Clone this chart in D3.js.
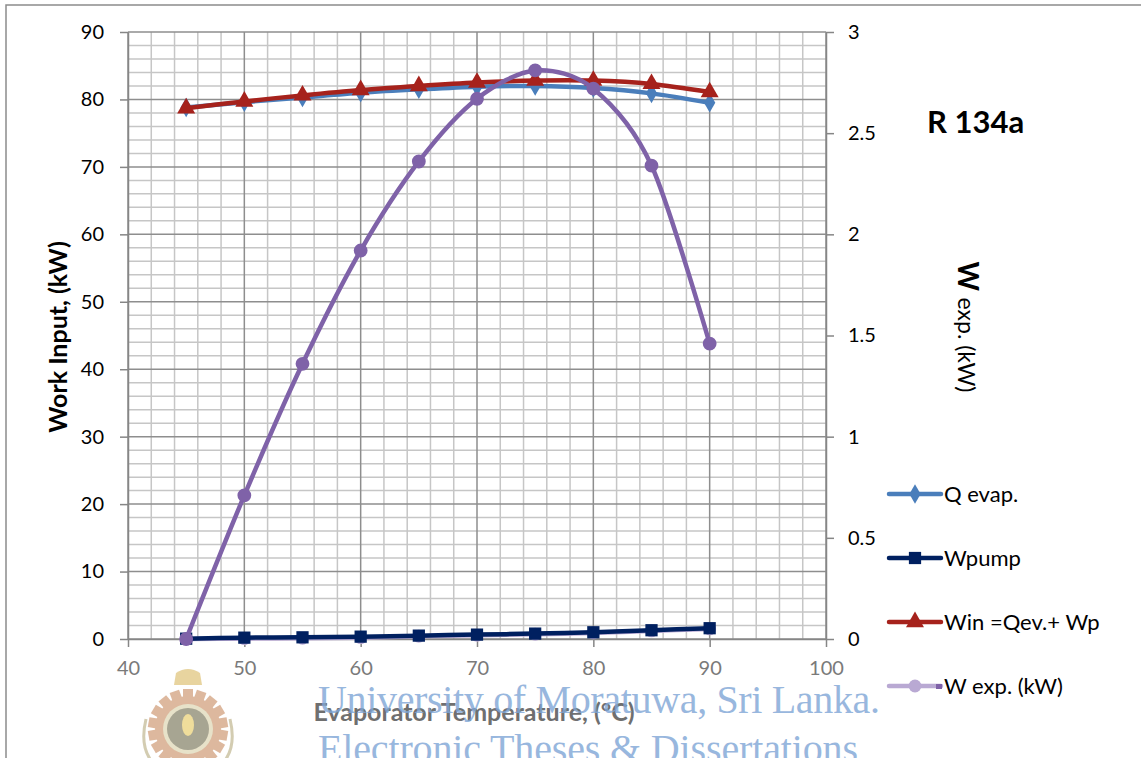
<!DOCTYPE html>
<meta charset="utf-8">
<style>
body { margin: 0; background: #fff; }
svg { display: block; font-family: Lato, "Open Sans", sans-serif; }
.grid-minor { stroke: #c6c6c6; stroke-width: 1.5px; }
.grid-major { stroke: #8e8e8e; stroke-width: 1.5px; }
.axis path, .axis line { stroke: #868686; stroke-width: 1.5px; }
.axis text { font-family: Lato, sans-serif; }
</style>
<body>
<script src="https://d3js.org/d3.v7.min.js"></script>
<script>
// R 134a - work input vs evaporator temperature
var temps   = [45, 50, 55, 60, 65, 70, 75, 80, 85, 90];
var qEvap   = [78.8, 79.6, 80.3, 81.0, 81.5, 81.9, 82.0, 81.7, 80.9, 79.5];
var wPump   = [0.05, 0.2, 0.25, 0.35, 0.5, 0.65, 0.8, 1.0, 1.3, 1.6];
var wIn     = [78.7, 79.7, 80.6, 81.4, 82.0, 82.5, 82.8, 82.8, 82.3, 81.1];
var wExpPri = [0, 0.05, 0.1, 0.2, 0.4, 0.55, 0.7, 0.9, 1.2, 1.5];   // light series on left axis
var wExp    = [0, 0.71, 1.36, 1.92, 2.36, 2.67, 2.81, 2.72, 2.34, 1.46]; // right axis

var leftTicks  = [0, 10, 20, 30, 40, 50, 60, 70, 80, 90];
var rightTicks = [0, 0.5, 1, 1.5, 2, 2.5, 3];
var xTicks     = [40, 50, 60, 70, 80, 90, 100];

var W = 1141, H = 758;
var svg = d3.select("body").append("svg").attr("width", W).attr("height", H);

var x  = d3.scaleLinear().domain([40, 100]).range([128, 826]);
var yL = d3.scaleLinear().domain([0, 90]).range([639, 32]);
var yR = d3.scaleLinear().domain([0, 3]).range([639, 32]);

// outer chart border
svg.append("path").attr("d", "M6,758V5H1141").attr("fill", "none")
   .attr("stroke", "#8c8c8c").attr("stroke-width", 1.5);

// grid
var g = svg.append("g");
d3.range(40, 101, 2).forEach(function(v) {
  g.append("line").attr("class", v % 10 === 0 ? "grid-major" : "grid-minor")
    .attr("x1", x(v)).attr("x2", x(v)).attr("y1", yL(90)).attr("y2", yL(0));
});
d3.range(0, 91, 2).forEach(function(v) {
  g.append("line").attr("class", v % 10 === 0 ? "grid-major" : "grid-minor")
    .attr("x1", x(40)).attr("x2", x(100)).attr("y1", yL(v)).attr("y2", yL(v));
});
g.selectAll(".grid-major").raise();

// axes
var axL = svg.append("g").attr("class", "axis").attr("transform", "translate(128,0)")
  .call(d3.axisLeft(yL).tickValues(leftTicks).tickSize(8).tickPadding(16).tickSizeOuter(0));
axL.selectAll("text").attr("font-size", 20).attr("fill", "#000");

var axR = svg.append("g").attr("class", "axis").attr("transform", "translate(826,0)")
  .call(d3.axisRight(yR).tickValues(rightTicks).tickSize(8).tickPadding(14).tickSizeOuter(0)
        .tickFormat(function(d) { return d; }));
axR.selectAll("text").attr("font-size", 20).attr("fill", "#000");

var axB = svg.append("g").attr("class", "axis").attr("transform", "translate(0,639)")
  .call(d3.axisBottom(x).tickValues(xTicks).tickSize(8).tickPadding(14).tickSizeOuter(0));
axB.selectAll("text").attr("font-size", 20).attr("fill", "#7a7a7a");

// titles
svg.append("text").attr("transform", "translate(67,337) rotate(-90)")
  .attr("text-anchor", "middle").attr("font-size", 25).attr("font-weight", "bold")
  .text("Work Input, (kW)");

var rt = svg.append("text").attr("transform", "translate(958,327) rotate(90)")
  .attr("text-anchor", "middle");
rt.append("tspan").attr("font-size", 28).attr("font-weight", "bold").text("W ");
rt.append("tspan").attr("font-size", 23).text("exp. (kW)");

svg.append("text").attr("x", 927).attr("y", 133).attr("font-size", 31)
  .attr("font-weight", "bold").text("R 134a");

svg.append("text").attr("x", 474).attr("y", 721).attr("text-anchor", "middle")
  .attr("font-size", 25).attr("font-weight", "bold").attr("fill", "#6f6f6f")
  .text("Evaporator Temperature, (\u00B0C)");

// series
var series = [
  {name: "W exp. (kW)",   vals: wExpPri, color: "#b9a9d3", sym: d3.symbolCircle,   size: 130, y: yL},
  {name: "Q evap.",       vals: qEvap,   color: "#4a7ebb", sym: d3.symbolDiamond,  size: 110, y: yL},
  {name: "Wpump",         vals: wPump,   color: "#002060", sym: d3.symbolSquare,   size: 150, y: yL},
  {name: "Win =Qev.+ Wp", vals: wIn,     color: "#a6221c", sym: d3.symbolTriangle, size: 140, y: yL},
  {name: "",              vals: wExp,    color: "#7f62a8", sym: d3.symbolCircle,   size: 150, y: yR}
];

series.forEach(function(s) {
  var pts = temps.map(function(t, i) { return [t, s.vals[i]]; });
  var line = d3.line().curve(d3.curveCardinal.tension(0.1))
    .x(function(d) { return x(d[0]); })
    .y(function(d) { return s.y(d[1]); });
  svg.append("path").datum(pts).attr("d", line).attr("fill", "none")
    .attr("stroke", s.color).attr("stroke-width", 4.5);
  svg.append("g").selectAll("path").data(pts).enter().append("path")
    .attr("transform", function(d) { return "translate(" + x(d[0]) + "," + s.y(d[1]) + ")"; })
    .attr("d", d3.symbol().type(s.sym).size(s.size))
    .attr("fill", s.color);
});

// legend
var legendRows = [series[1], series[2], series[3], series[0]];
var lg = svg.append("g");
legendRows.forEach(function(s, i) {
  var ly = 494 + i * 64;
  lg.append("line").attr("x1", 889).attr("x2", 941).attr("y1", ly).attr("y2", ly)
    .attr("stroke", s.color).attr("stroke-width", 4.5).attr("stroke-linecap", "round");
  lg.append("path").attr("transform", "translate(915," + ly + ")")
    .attr("d", d3.symbol().type(s.sym).size(s.size)).attr("fill", s.color);
  lg.append("text").attr("x", 944).attr("y", ly + 8).attr("font-size", 22).text(s.name);
});
lg.append("rect").attr("x", 936).attr("y", 684).attr("width", 6).attr("height", 5).attr("fill", "#7f62a8");

// watermark
var wm = svg.append("g").attr("opacity", 0.6);
var logo = wm.append("g").attr("transform", "translate(188,729)");
d3.range(0, 360, 20).forEach(function(a) {
  logo.append("rect").attr("x", -5).attr("y", -40).attr("width", 10).attr("height", 10)
    .attr("fill", "#c88a5e").attr("transform", "rotate(" + a + ")");
});
logo.append("circle").attr("r", 33).attr("fill", "#c88a5e");
logo.append("circle").attr("r", 25).attr("fill", "#d8cfa6");
logo.append("circle").attr("r", 21).attr("fill", "#6e6a4b");
logo.append("ellipse").attr("cy", -4).attr("rx", 6).attr("ry", 11).attr("fill", "#e6c85a");
logo.append("path").attr("d", "M-14,-44 L-12,-56 Q0,-64 12,-56 L14,-44 Z").attr("fill", "#d9b860");
logo.append("path").attr("d", "M-42,-10 Q-48,15 -38,30").attr("fill", "none").attr("stroke", "#b6ab7e").attr("stroke-width", 3);
logo.append("path").attr("d", "M42,-10 Q48,15 38,30").attr("fill", "none").attr("stroke", "#b6ab7e").attr("stroke-width", 3);

var wm2 = svg.append("g").attr("opacity", 0.8);
wm2.append("text").attr("x", 318).attr("y", 713).attr("font-family", "Liberation Serif, serif")
  .attr("font-size", 40).attr("fill", "#7fa6d6").attr("textLength", 562)
  .text("University of Moratuwa, Sri Lanka.");
wm2.append("text").attr("x", 318).attr("y", 762).attr("font-family", "Liberation Serif, serif")
  .attr("font-size", 40).attr("fill", "#7fa6d6").attr("textLength", 540)
  .text("Electronic Theses & Dissertations");
</script>
</body>
